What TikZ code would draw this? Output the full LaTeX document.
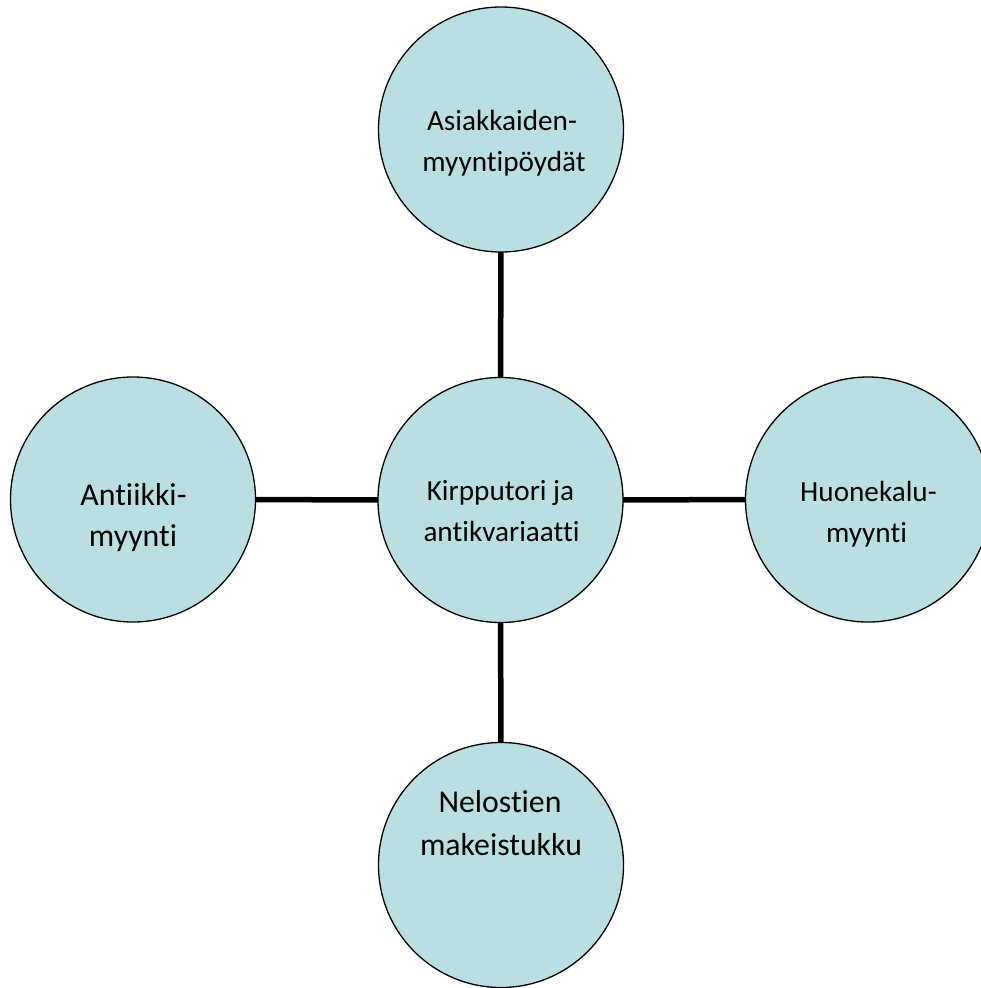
\documentclass[tikz,border=0pt]{standalone}
\usepackage{fontspec}
\setmainfont[Ligatures=CommonOff]{Carlito}
\definecolor{bubblefill}{HTML}{B9DFE3}
\begin{document}
\begin{tikzpicture}[x=1pt,y=-1pt,
  bubble/.style={circle, draw=black, line width=1.3pt, fill=bubblefill, minimum size=245pt, inner sep=0pt, outer sep=0pt},
  link/.style={draw=black, line width=5.5pt},
  txtbig/.style={anchor=base, inner sep=0pt, font=\fontsize{31.8}{37}\selectfont},
  txtmid/.style={anchor=base, inner sep=0pt, font=\fontsize{29.2}{34}\selectfont}]
\useasboundingbox (0,0) rectangle (981,988);
\node[bubble] (top) at (501,129.5) {};
\node[bubble] (mid) at (500.5,500) {};
\node[bubble] (left) at (133,499.5) {};
\node[bubble] (right) at (868,499.5) {};
\node[bubble] (bottom) at (501,865) {};
\draw[link] (top) -- (mid);
\draw[link] (mid) -- (bottom);
\draw[link] (left) -- (mid);
\draw[link] (mid) -- (right);
\node[txtmid] (t1) at (502,130) {Asiakkaiden-};
\node[txtmid] (t2) at (504,171.7) {myyntipöydät};
\node[txtmid] (m1) at (500.5,500) {Kirpputori ja};
\node[txtmid] (m2) at (501.5,541.7) {antikvariaatti};
\node[txtbig] (l1) at (133.5,505) {Antiikki-};
\node[txtbig] (l2) at (133,546.7) {myynti};
\node[txtmid] (r1) at (868.5,501.7) {Huonekalu-};
\node[txtmid] (r2) at (866.5,542.7) {myynti};
\node[txtbig] (b1) at (500,812.7) {Nelostien};
\node[txtbig] (b2) at (501,855) {makeistukku};
\end{tikzpicture}
\end{document}
